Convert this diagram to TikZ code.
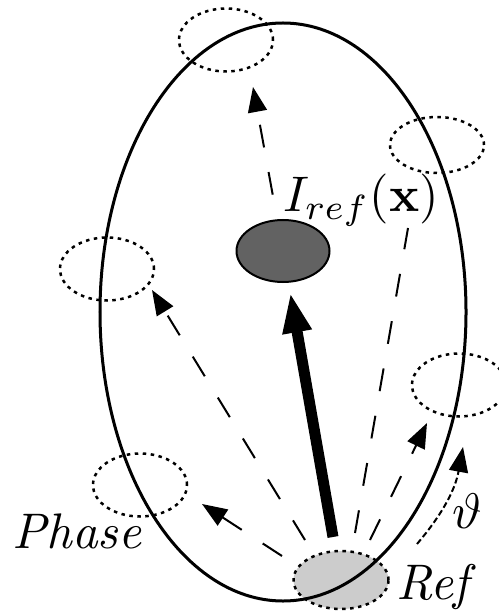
\documentclass[tikz,border=0pt]{standalone}
\usepackage{amsmath}
\usetikzlibrary{positioning,arrows.meta,shapes.geometric}
\definecolor{darkspot}{RGB}{98,98,98}
\definecolor{refspot}{RGB}{204,204,204}
\begin{document}
\begin{tikzpicture}[x=0.2pt,y=-0.2pt,
  spot/.style={ellipse,draw,inner sep=0pt,line width=0.5pt,dash pattern=on 0.7pt off 0.9pt,minimum width=18.8pt,minimum height=12.6pt},
  darr/.style={-{Triangle[length=5pt,width=3.8pt]},line width=0.4pt,dash pattern=on 4.6pt off 5pt},
  thickarr/.style={-{Triangle[length=8pt,width=5.4pt]},line width=2.2pt},
  tharr/.style={-{Triangle[length=5pt,width=3.8pt]},line width=0.4pt,dash pattern=on 1.2pt off 0.6pt}
]
\useasboundingbox (0,0) rectangle (498,612);
% reference spot under the orbit
\node[ellipse,inner sep=0pt,fill=refspot,draw,line width=0.5pt,dash pattern=on 0.7pt off 0.9pt,minimum width=19pt,minimum height=11.6pt] (ref) at (341,580) {};
\node[ellipse,draw,line width=0.6pt,inner sep=0pt,minimum width=73.2pt,minimum height=115.6pt] (orbit) at (283,312) {};
\node[ellipse,draw,fill=darkspot,line width=0.4pt,inner sep=0pt,minimum width=18.6pt,minimum height=12.4pt] (iref) at (283,251) {};
% shifted spots
\node[spot] (s1) at (226,40) {};
\node[spot,minimum height=11.2pt] (s2) at (437,145) {};
\node[spot] (s3) at (107,269) {};
\node[spot] (s4) at (459,385) {};
\node[spot] (s5) at (140,485) {};
% labels
\node (lbl) at (361,200) {$I_{ref}(\mathbf{x})$};
\node (phase) at (77,531) {\textit{Phase}};
\node (reflbl) at (436,587) {\textit{Ref}};
\node (theta) at (467,511) {$\vartheta$};
% arrow ends
\coordinate (a1) at (253,87);
\coordinate (b0) at (355,533);
\coordinate (b1) at (408,228);
\coordinate (c0) at (305,540);
\coordinate (c1) at (152,290);
\coordinate (d0) at (282,556);
\coordinate (d1) at (202,504);
\coordinate (e0) at (370,540);
\coordinate (e1) at (427,423);
\coordinate (f0) at (417,544);
\coordinate (f1) at (463,447);
\coordinate (p0) at (333,537);
\draw[darr,dash phase=4.6pt] (iref) -- (a1);
\draw[darr,-] (b0) -- (b1);
\draw[darr] (c0) -- (c1);
\draw[darr] (d0) -- (d1);
\draw[darr] (e0) -- (e1);
\draw[tharr] (f0) to[bend right=15] (f1);
\draw[thickarr,shorten >=2pt] (p0) -- (iref);
\end{tikzpicture}
\end{document}
